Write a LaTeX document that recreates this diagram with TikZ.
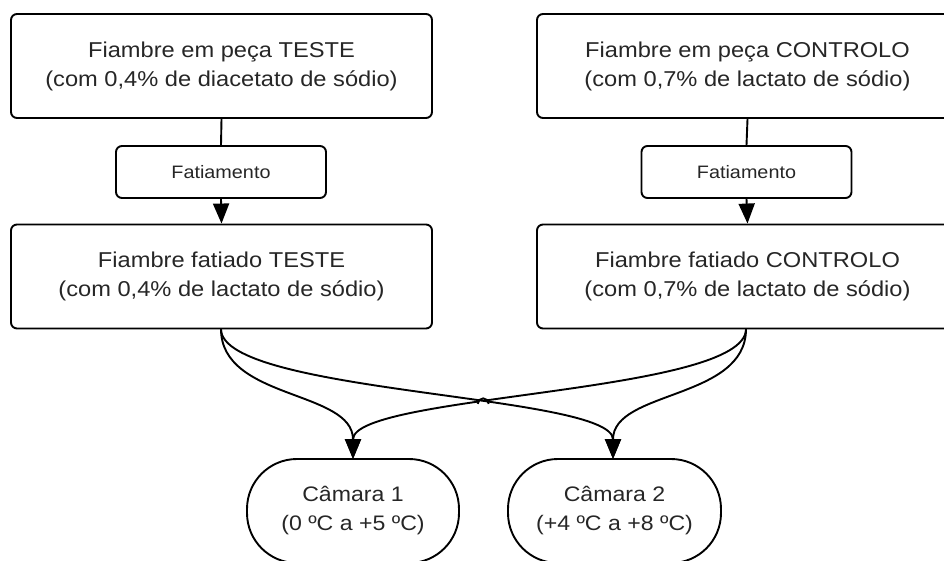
\documentclass[tikz,border=0pt]{standalone}
\usepackage{fontspec}
\setmainfont{Liberation Sans}[FakeStretch=1.1]
\usetikzlibrary{arrows.meta,intersections}
\begin{document}
\begin{tikzpicture}[x=1pt,y=-1pt,
  every node/.style={text=black!85},
  bigbox/.style={draw, line width=1.9pt, rounded corners=6pt, minimum width=421pt, minimum height=104pt, inner sep=0pt, align=center, font=\fontsize{21.5}{29}\selectfont},
  smallbox/.style={draw, line width=1.9pt, rounded corners=6pt, minimum width=210pt, minimum height=52pt, inner sep=0pt, align=center, font=\fontsize{18}{22}\selectfont},
  pill/.style={draw, line width=1.9pt, rounded corners=50pt, minimum width=212pt, minimum height=104pt, inner sep=0pt, align=center, font=\fontsize{21}{29}\selectfont},
  conn/.style={line width=1.9pt, draw=black},
  arr/.style={conn, -{Triangle[length=20pt,width=16pt]}}
]
\useasboundingbox (0,0) rectangle (944,561);
\node[bigbox] (tl) at (221.5,66) {Fiambre em peça TESTE\\(com 0,4\% de diacetato de sódio)};
\node[bigbox] (tr) at (747.5,66) {Fiambre em peça CONTROLO\\(com 0,7\% de lactato de sódio)};
\node[smallbox] (fl) at (221,172) {Fatiamento};
\node[smallbox] (fr) at (746.5,172) {Fatiamento};
\node[bigbox] (sl) at (221.5,276.5) {Fiambre fatiado TESTE\\(com 0,4\% de lactato de sódio)};
\node[bigbox] (sr) at (747.5,276.5) {Fiambre fatiado CONTROLO\\(com 0,7\% de lactato de sódio)};
\node[pill] (c1) at (353,511) {Câmara 1\\(0 ºC a +5 ºC)};
\node[pill, minimum width=213pt] (c2) at (614.5,511) {Câmara 2\\(+4 ºC a +8 ºC)};

\draw[conn] (tl.south) -- (fl.north);
\draw[conn] (tr.south) -- (fr.north);
\draw[arr] (fl.south) -- (sl.north);
\draw[arr] (fr.south) -- (sr.north);

\coordinate (sls) at (221,329);
\coordinate (srs) at (746,329);
\coordinate (c1n) at (353,459);
\coordinate (c2n) at (613,459);

\draw[arr] (sls) .. controls (221,400) and (353,390) .. (c1n);
\draw[arr] (srs) .. controls (746,400) and (613,390) .. (c2n);
\path[name path=lc] (sls) .. controls (221,394) and (613,394) .. (c2n);
\path[name path=rc] (srs) .. controls (746,394) and (353,394) .. (c1n);
\draw[arr] (srs) .. controls (746,394) and (353,394) .. (c1n);
\path[name intersections={of=lc and rc, by=X}];
\fill[white] (X) circle[radius=5.5pt];
\draw[arr] (sls) .. controls (221,394) and (613,394) .. (c2n);
\fill[white] ([yshift=-1pt]X) circle[radius=3pt];
\draw[line width=1.9pt] ([xshift=-5.5pt,yshift=1.5pt]X) arc[start angle=180,end angle=0,radius=5.5pt];
\end{tikzpicture}
\end{document}
